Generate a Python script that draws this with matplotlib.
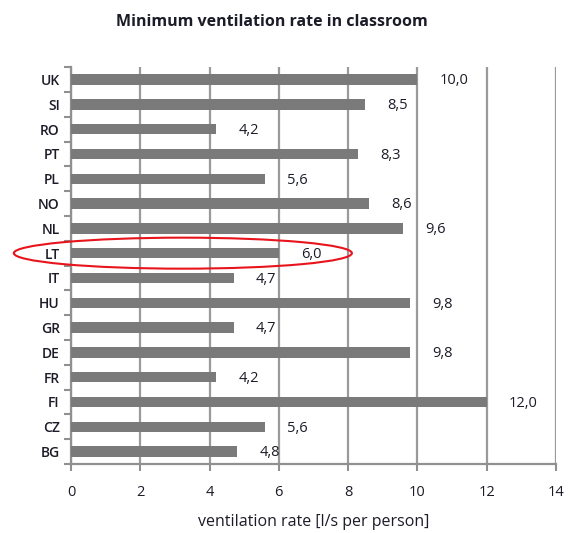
import numpy as np
import matplotlib.pyplot as plt
from matplotlib.patches import Ellipse

# data (top to bottom as in the chart)
countries = ["UK", "SI", "RO", "PT", "PL", "NO", "NL", "LT",
             "IT", "HU", "GR", "DE", "FR", "FI", "CZ", "BG"]
rates = [10.0, 8.5, 4.2, 8.3, 5.6, 8.6, 9.6, 6.0,
         4.7, 9.8, 4.7, 9.8, 4.2, 12.0, 5.6, 4.8]
highlight = "LT"

plt.rcParams['font.family'] = ['Open Sans', 'DejaVu Sans']
txt = '#1c1c28'

fig = plt.figure(figsize=(5.79, 5.33), dpi=100)
ax = fig.add_axes([0.1226, 0.1295, 0.8375, 0.7445])

# reverse so that UK sits on top
labels = countries[::-1]
vals = rates[::-1]
y = np.arange(len(labels))

ax.barh(y, vals, height=0.42, color='#7a7a7a', zorder=3)
for yi, v in zip(y, vals):
    ax.annotate(f"{v:.1f}".replace('.', ','), (v, yi), xytext=(16, -1),
                textcoords='offset points', va='center', ha='left',
                fontsize=10.5, color=txt)

ax.set_xlim(0, 14)
ax.set_ylim(-0.5, len(labels) - 0.5)
ax.set_xticks(np.arange(0, 15, 2))
ax.set_yticks(y)
ax.set_yticklabels(labels, fontweight='semibold', color=txt, fontsize=10)
ax.set_yticks(np.arange(-0.5, len(labels), 1), minor=True)
ax.tick_params(axis='y', which='major', length=0, pad=8)
ax.tick_params(axis='y', which='minor', length=5, color='#909090', width=1.5)
ax.tick_params(axis='x', length=5, color='#909090', width=1.5, labelsize=10.5,
               labelcolor=txt, pad=10)
ax.xaxis.grid(True, color='#9a9a9a', linewidth=1.6, zorder=0)
ax.set_axisbelow(True)
for s in ['top', 'right']:
    ax.spines[s].set_visible(False)
for s in ['left', 'bottom']:
    ax.spines[s].set_color('#909090')
    ax.spines[s].set_linewidth(1.6)

ax.set_xlabel("ventilation rate [l/s per person]", fontsize=11.5, color=txt,
              labelpad=10)
fig.text(0.47, 0.958, "Minimum ventilation rate in classroom", ha='center',
         va='center', fontsize=11.5, fontweight='bold', color=txt)

# red ellipse round the highlighted country
yl = labels.index(highlight)
ax.add_patch(Ellipse((3.23, yl), 9.76, 1.25, fill=False, edgecolor='#e8141c',
                     linewidth=1.5, clip_on=False, zorder=5))

fig.savefig("out.png", dpi=100)
